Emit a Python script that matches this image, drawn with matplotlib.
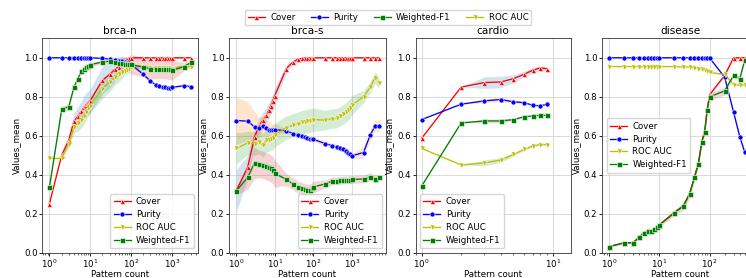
import numpy as np
import matplotlib
matplotlib.use("Agg")
import matplotlib.pyplot as plt

# ---------------- data ----------------
panels = ["brca-n", "brca-s", "cardio", "disease"]

x_brca_n = [1, 2, 3, 4, 5, 6, 7, 8, 9, 10, 20, 30, 40, 50, 60, 70, 80, 90, 100,
            200, 300, 400, 500, 600, 700, 800, 900, 1000, 2000, 3000]
cover_n = [0.25, 0.50, 0.58, 0.675, 0.70, 0.725, 0.745, 0.76, 0.77, 0.78, 0.885, 0.915, 0.94, 0.955,
           0.97, 0.985, 0.993, 0.998, 1.0, 1.0, 1.0, 1.0, 1.0, 1.0, 1.0, 1.0, 1.0, 1.0, 1.0, 1.0]
purity_n = [1.0, 1.0, 1.0, 1.0, 1.0, 1.0, 1.0, 1.0, 1.0, 1.0, 0.997, 0.993, 0.99, 0.985, 0.982,
            0.978, 0.975, 0.972, 0.967, 0.915, 0.88, 0.862, 0.855, 0.85, 0.848, 0.845, 0.846, 0.848,
            0.857, 0.852]
roc_n = [0.484, 0.484, 0.56, 0.645, 0.663, 0.68, 0.70, 0.72, 0.74, 0.755, 0.842, 0.876, 0.90, 0.915,
         0.925, 0.93, 0.935, 0.94, 0.955, 0.955, 0.95, 0.95, 0.95, 0.95, 0.95, 0.95, 0.95, 0.945,
         0.955, 0.955]
f1_n = [0.335, 0.735, 0.75, 0.85, 0.893, 0.93, 0.945, 0.955, 0.96, 0.965, 0.978, 0.983, 0.978, 0.975,
        0.972, 0.97, 0.968, 0.967, 0.966, 0.952, 0.944, 0.942, 0.942, 0.942, 0.942, 0.94, 0.94, 0.935,
        0.955, 0.977]
cover_n_ci = [0, 0, 0.02, 0.04, 0.05, 0.05, 0.06, 0.06, 0.06, 0.06, 0.07, 0.07, 0.06, 0.05, 0.04,
              0.02, 0.01, 0.005, 0, 0, 0, 0, 0, 0, 0, 0, 0, 0, 0, 0]
purity_n_ci = [0, 0, 0, 0, 0, 0, 0, 0, 0, 0, 0, 0, 0, 0, 0, 0, 0, 0, 0, 0.01, 0.01, 0.01, 0.01,
               0.01, 0.01, 0.01, 0.01, 0.01, 0.005, 0.005]
roc_n_ci = [0, 0, 0.02, 0.03, 0.04, 0.04, 0.04, 0.04, 0.04, 0.04, 0.05, 0.05, 0.04, 0.04, 0.03,
            0.02, 0.02, 0.02, 0.01, 0.01, 0.01, 0.01, 0.01, 0.01, 0.01, 0.01, 0.01, 0.01, 0.01, 0.01]
f1_n_ci = [0, 0.015, 0.015, 0.01, 0.01, 0.01, 0.01, 0.01, 0.01, 0.01, 0.01, 0.01, 0.015, 0.02, 0.03,
           0.03, 0.04, 0.04, 0.05, 0.05, 0.05, 0.05, 0.05, 0.05, 0.05, 0.05, 0.05, 0.05, 0.02, 0.01]

x_brca_s = [1, 2, 3, 4, 5, 6, 7, 8, 9, 10, 20, 30, 40, 50, 60, 70, 80, 90, 100,
            200, 300, 400, 500, 600, 700, 800, 900, 1000, 2000, 3000, 4000, 5000]
cover_s = [0.316, 0.44, 0.594, 0.654, 0.68, 0.705, 0.73, 0.755, 0.78, 0.805, 0.945, 0.979, 0.993,
           0.997, 1.0, 1.0, 1.0, 1.0, 1.0, 1.0, 1.0, 1.0, 1.0, 1.0, 1.0, 1.0, 1.0, 1.0, 1.0, 1.0, 1.0, 1.0]
purity_s = [0.678, 0.675, 0.645, 0.642, 0.652, 0.64, 0.632, 0.63, 0.628, 0.632, 0.625, 0.611, 0.605,
            0.60, 0.595, 0.59, 0.585, 0.583, 0.582, 0.56, 0.55, 0.543, 0.535, 0.53, 0.52, 0.51, 0.505,
            0.497, 0.514, 0.605, 0.649, 0.649]
roc_s = [0.535, 0.563, 0.56, 0.568, 0.551, 0.577, 0.58, 0.585, 0.59, 0.603, 0.642, 0.654, 0.662, 0.67,
         0.672, 0.675, 0.678, 0.68, 0.683, 0.68, 0.688, 0.69, 0.70, 0.71, 0.72, 0.73, 0.74, 0.757,
         0.80, 0.85, 0.898, 0.873]
f1_s = [0.316, 0.386, 0.461, 0.454, 0.45, 0.444, 0.438, 0.432, 0.423, 0.407, 0.376, 0.352, 0.335,
        0.33, 0.325, 0.323, 0.321, 0.33, 0.338, 0.352, 0.367, 0.37, 0.372, 0.373, 0.374, 0.375, 0.375,
        0.376, 0.378, 0.39, 0.378, 0.386]
cover_s_ci = [0.11, 0.06, 0.04, 0.04, 0.04, 0.04, 0.04, 0.04, 0.04, 0.04, 0.02, 0.01, 0.01, 0, 0, 0,
              0, 0, 0, 0, 0, 0, 0, 0, 0, 0, 0, 0, 0, 0, 0, 0]
purity_s_ci = [0.12, 0.10, 0.08, 0.05, 0.05, 0.04, 0.04, 0.03, 0.03, 0.03, 0.01, 0.01, 0.01, 0.01,
               0.01, 0.01, 0.01, 0.01, 0.01, 0.015, 0.015, 0.015, 0.015, 0.015, 0.015, 0.015, 0.015,
               0.015, 0.03, 0.03, 0.03, 0.03]
roc_s_ci = [0.08, 0.06, 0.06, 0.06, 0.06, 0.06, 0.06, 0.06, 0.06, 0.06, 0.06, 0.06, 0.06, 0.06, 0.06,
            0.06, 0.06, 0.06, 0.06, 0.05, 0.05, 0.05, 0.05, 0.05, 0.05, 0.05, 0.05, 0.05, 0.03, 0.03,
            0.03, 0.03]
f1_s_ci = [0.02, 0.06, 0.08, 0.07, 0.07, 0.07, 0.07, 0.07, 0.07, 0.07, 0.03, 0.03, 0.03, 0.03, 0.03,
           0.03, 0.03, 0.03, 0.03, 0.02, 0.02, 0.02, 0.02, 0.02, 0.02, 0.02, 0.02, 0.02, 0.02, 0.02,
           0.02, 0.02]

x_cardio = [1, 2, 3, 4, 5, 6, 7, 8, 9]
cover_c = [0.587, 0.85, 0.873, 0.876, 0.893, 0.915, 0.936, 0.948, 0.944]
purity_c = [0.683, 0.762, 0.779, 0.786, 0.774, 0.77, 0.757, 0.753, 0.762]
roc_c = [0.535, 0.45, 0.461, 0.475, 0.504, 0.53, 0.548, 0.555, 0.555]
f1_c = [0.342, 0.666, 0.676, 0.676, 0.683, 0.697, 0.702, 0.705, 0.705]
cover_c_ci = [0, 0, 0.03, 0.03, 0.02, 0.015, 0.015, 0.012, 0.01]
purity_c_ci = [0, 0, 0.01, 0.012, 0.008, 0.005, 0.003, 0.003, 0.003]
roc_c_ci = [0, 0, 0.015, 0.012, 0.008, 0.006, 0.006, 0.004, 0.003]
f1_c_ci = [0, 0, 0.01, 0.01, 0.005, 0.004, 0.003, 0.003, 0.002]

x_disease = [1, 2, 3, 4, 5, 6, 7, 8, 9, 10, 20, 30, 40, 50, 60, 70, 80, 90, 100, 200, 300, 400, 500]
cover_d = [0.031, 0.051, 0.052, 0.08, 0.104, 0.114, 0.115, 0.122, 0.134, 0.143, 0.206, 0.24, 0.302,
           0.388, 0.46, 0.57, 0.625, 0.74, 0.81, 0.91, 1.0, 1.0, 1.0]
purity_d = [1.0, 1.0, 1.0, 1.0, 1.0, 1.0, 1.0, 1.0, 1.0, 1.0, 1.0, 1.0, 1.0, 1.0, 1.0, 1.0, 1.0, 1.0,
            1.0, 0.9, 0.722, 0.594, 0.517]
roc_d = [0.955, 0.955, 0.955, 0.955, 0.955, 0.955, 0.955, 0.955, 0.955, 0.955, 0.955, 0.953, 0.952,
         0.948, 0.945, 0.94, 0.935, 0.93, 0.925, 0.915, 0.862, 0.862, 0.86]
f1_d = [0.031, 0.051, 0.051, 0.079, 0.103, 0.113, 0.113, 0.121, 0.133, 0.142, 0.205, 0.239, 0.3,
        0.386, 0.457, 0.566, 0.62, 0.73, 0.8, 0.83, 0.91, 0.893, 0.987]
cover_d_ci = [0, 0, 0, 0, 0, 0, 0, 0, 0, 0, 0.005, 0.005, 0.005, 0.005, 0.005, 0.005, 0.005, 0.005,
              0.005, 0.01, 0.005, 0, 0]
purity_d_ci = [0] * 19 + [0.005, 0.01, 0.01, 0.01]
roc_d_ci = [0] * 19 + [0.005, 0.005, 0.005, 0.005]
f1_d_ci = [0.005, 0.005, 0.005, 0.005, 0.005, 0.005, 0.008, 0.01, 0.01, 0.01, 0.015, 0.02, 0.02,
           0.02, 0.02, 0.02, 0.02, 0.02, 0.02, 0.02, 0.01, 0.01, 0.01]

metric_names = ["Cover", "Purity", "ROC AUC", "Weighted-F1"]
metric_colors = ["r", "b", "y", "g"]
metric_markers = ["^", "o", "v", "s"]

panel_x = [x_brca_n, x_brca_s, x_cardio, x_disease]
panel_y = [[cover_n, purity_n, roc_n, f1_n],
           [cover_s, purity_s, roc_s, f1_s],
           [cover_c, purity_c, roc_c, f1_c],
           [cover_d, purity_d, roc_d, f1_d]]
panel_ci = [[cover_n_ci, purity_n_ci, roc_n_ci, f1_n_ci],
            [cover_s_ci, purity_s_ci, roc_s_ci, f1_s_ci],
            [cover_c_ci, purity_c_ci, roc_c_ci, f1_c_ci],
            [cover_d_ci, purity_d_ci, roc_d_ci, f1_d_ci]]
legend_locs = ["lower right", "lower right", "lower left", "center left"]

# ---------------- figure ----------------
W, H = 746, 278
fig = plt.figure(figsize=(W / 100, H / 100), dpi=100)
FS = 6.2
plt.rcParams.update({"font.size": FS})

lefts = [42.3, 229.0, 415.5, 602.2]
widths = [156, 157, 155.5, 156]
top_px, bot_px = 38.3, 252.7
xlims = [None, None, (10 ** -0.047, 10 ** 1.137), (10 ** -0.1355, 10 ** 2.968)]

handles_first = None
for i, name in enumerate(panels):
    ax = fig.add_axes([lefts[i] / W, (H - bot_px) / H, widths[i] / W, (bot_px - top_px) / H])
    x = np.array(panel_x[i], dtype=float)
    hs = []
    for j in range(4):
        y = np.array(panel_y[i][j])
        ci = np.array(panel_ci[i][j])
        ax.fill_between(x, y - ci, y + ci, color=f"C{j}", alpha=0.2, lw=0)
        h, = ax.plot(x, y, color=metric_colors[j], marker=metric_markers[j], ms=3.6,
                     mec="white", mew=0.4, lw=0.95, label=metric_names[j])
        hs.append(h)
    if handles_first is None:
        handles_first = hs
    ax.set_xscale("log")
    if xlims[i] is not None:
        ax.set_xlim(*xlims[i])
    ax.set_ylim(0, 1.1)
    ax.set_yticks([0, 0.2, 0.4, 0.6, 0.8, 1.0])
    ax.grid(True, color="#d5d5d5", lw=0.6)
    ax.set_axisbelow(True)
    ax.tick_params(labelsize=FS, width=0.6, length=2.2, pad=1.2)
    ax.tick_params(which="minor", width=0.4, length=1.3)
    for s in ax.spines.values():
        s.set_linewidth(0.6)
        s.set_color("#333333")
    ax.set_title(name, fontsize=7.6, pad=3)
    ax.set_xlabel("Pattern count", fontsize=FS, labelpad=0.3)
    ax.set_ylabel("Values_mean", fontsize=FS, labelpad=2)
    ax.legend(loc=legend_locs[i], fontsize=FS, handlelength=2.0, borderpad=0.4,
              labelspacing=0.45, handletextpad=0.6)

order = [0, 1, 3, 2]
fig.legend([handles_first[k] for k in order], [metric_names[k] for k in order],
           loc="upper center", bbox_to_anchor=(388 / W, 1 - 6 / H), ncol=4, fontsize=FS,
           handlelength=2.0, borderpad=0.35, columnspacing=1.8, handletextpad=0.6)

fig.savefig("out.png", dpi=100)
